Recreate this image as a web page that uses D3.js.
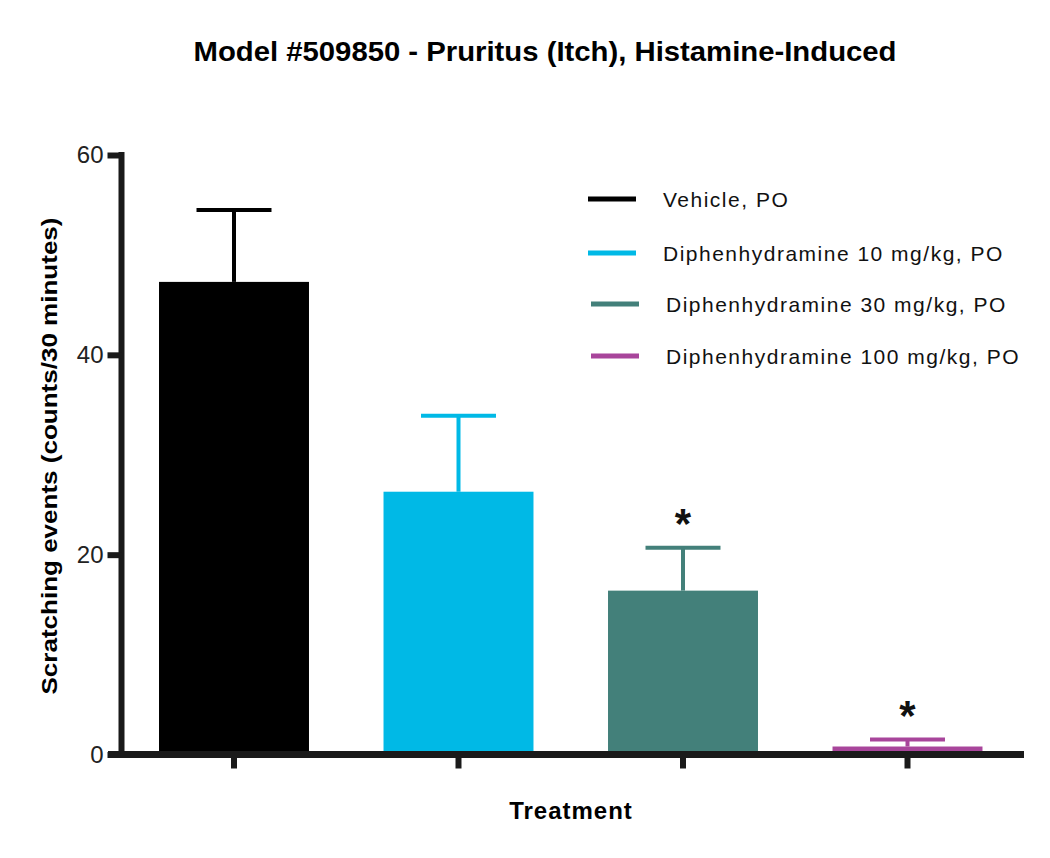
<!DOCTYPE html>
<html>
<head>
<meta charset="utf-8">
<script src="https://cdn.jsdelivr.net/npm/d3@7"></script>
<style>
  body { margin: 0; background: #fff; }
  text { font-family: "Liberation Sans", Arial, sans-serif; }
</style>
</head>
<body>
<div id="main"></div>
<script>
// chart values
const treatments = ['Vehicle, PO', 'Diphenhydramine 10 mg/kg, PO', 'Diphenhydramine 30 mg/kg, PO', 'Diphenhydramine 100 mg/kg, PO'];
const means = [47.3, 26.3, 16.4, 0.8];
const errors = [7.2, 7.6, 4.3, 0.7];
const significant = [false, false, true, true];
const colors = ['#000000', '#00b9e6', '#43807a', '#a8459b'];
const yTicks = [0, 20, 40, 60];

const width = 1050, height = 858;
const axisColor = '#1a1a1a';

const svg = d3.select('#main')
    .append('svg')
        .attr('width', width)
        .attr('height', height);

const x = d3.scaleBand()
    .domain(treatments)
    .range([121.75, 1019.75])
    .paddingInner(0.332)
    .paddingOuter(0.166);

const y = d3.scaleLinear()
    .domain([0, 60])
    .range([754.5, 155]);

// title
svg.append('text')
    .attr('x', 545)
    .attr('y', 61)
    .attr('text-anchor', 'middle')
    .style('font-size', '27px')
    .style('font-weight', 'bold')
    .attr('textLength', 703)
    .attr('lengthAdjust', 'spacingAndGlyphs')
    .text('Model #509850 - Pruritus (Itch), Histamine-Induced');

// bars
svg.selectAll('.bar')
    .data(treatments)
    .enter()
    .append('rect')
        .attr('class', 'bar')
        .attr('x', d => x(d))
        .attr('y', (d, i) => y(means[i]))
        .attr('width', x.bandwidth())
        .attr('height', (d, i) => y(0) - y(means[i]))
        .style('fill', (d, i) => colors[i]);

// error bars (upper only)
const err = svg.selectAll('.err')
    .data(treatments)
    .enter()
    .append('g')
        .attr('class', 'err')
        .style('stroke', (d, i) => colors[i])
        .style('stroke-width', 4);

err.append('line')
    .attr('x1', d => x(d) + x.bandwidth() / 2)
    .attr('x2', d => x(d) + x.bandwidth() / 2)
    .attr('y1', (d, i) => y(means[i]))
    .attr('y2', (d, i) => y(means[i] + errors[i]));

err.append('line')
    .attr('x1', d => x(d) + x.bandwidth() / 4)
    .attr('x2', d => x(d) + x.bandwidth() * 3 / 4)
    .attr('y1', (d, i) => y(means[i] + errors[i]))
    .attr('y2', (d, i) => y(means[i] + errors[i]));

// significance stars
svg.selectAll('.star')
    .data(treatments.filter((d, i) => significant[i]))
    .enter()
    .append('text')
        .attr('class', 'star')
        .attr('x', d => x(d) + x.bandwidth() / 2)
        .attr('y', d => y(means[treatments.indexOf(d)] + errors[treatments.indexOf(d)]) - 10)
        .attr('text-anchor', 'middle')
        .style('font-size', '42px')
        .style('font-weight', 'bold')
        .style('fill', '#111')
        .text('*');

// y axis
const yAxis = svg.append('g')
    .attr('transform', 'translate(121.5,0)')
    .call(d3.axisLeft(y).tickValues(yTicks).tickSize(14).tickSizeOuter(0).tickPadding(4));

yAxis.select('.domain')
    .attr('d', `M0,${y(60) - 3}V${y(0) + 3}`)
    .style('stroke', axisColor)
    .style('stroke-width', 6);
yAxis.selectAll('.tick line')
    .style('stroke', axisColor)
    .style('stroke-width', 6);
yAxis.selectAll('.tick text')
    .style('font-size', '24px')
    .style('font-family', '"Liberation Sans", Arial, sans-serif')
    .style('fill', '#222');

// x axis
const xAxis = svg.append('g')
    .attr('transform', `translate(0,${y(0)})`)
    .call(d3.axisBottom(x).tickSize(14).tickSizeOuter(0).tickFormat(''));

xAxis.select('.domain')
    .attr('d', 'M108,0H1024')
    .style('stroke', axisColor)
    .style('stroke-width', 7);
xAxis.selectAll('.tick line')
    .style('stroke', axisColor)
    .style('stroke-width', 6);

// axis titles
svg.append('text')
    .attr('transform', 'translate(57,456) rotate(-90)')
    .attr('text-anchor', 'middle')
    .style('font-size', '22px')
    .style('font-weight', 'bold')
    .attr('textLength', 477)
    .attr('lengthAdjust', 'spacingAndGlyphs')
    .text('Scratching events (counts/30 minutes)');

svg.append('text')
    .attr('x', 571)
    .attr('y', 819)
    .attr('text-anchor', 'middle')
    .style('font-size', '24px')
    .style('font-weight', 'bold')
    .style('letter-spacing', '1px')
    .text('Treatment');

// legend
const legendY = [199, 253, 304, 356];
const legendX = [588, 588, 591, 591];
const legend = svg.selectAll('.legend')
    .data(treatments)
    .enter()
    .append('g')
        .attr('class', 'legend')
        .attr('transform', (d, i) => `translate(${legendX[i]},${legendY[i]})`);

legend.append('line')
    .attr('x1', 0)
    .attr('x2', 48)
    .style('stroke', (d, i) => colors[i])
    .style('stroke-width', 5);

legend.append('text')
    .attr('x', 75)
    .attr('y', 7.5)
    .style('font-size', '21px')
    .style('letter-spacing', '1.5px')
    .style('fill', '#111')
    .text(d => d);
</script>
</body>
</html>
